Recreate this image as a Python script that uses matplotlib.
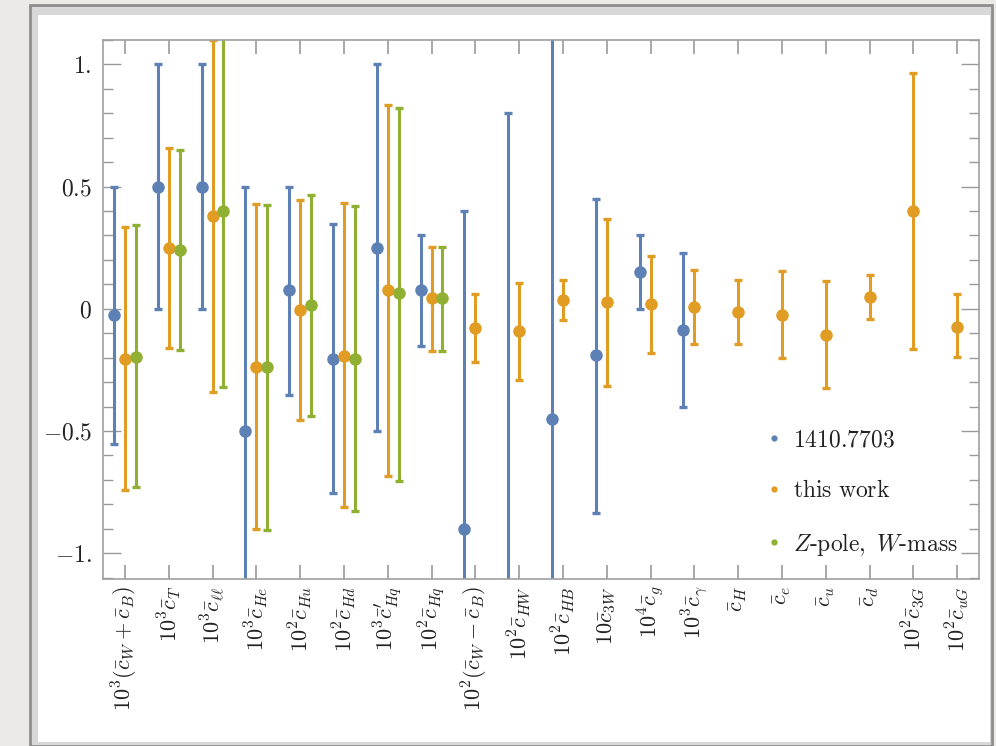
import numpy as np
import matplotlib
matplotlib.use("Agg")
import matplotlib.pyplot as plt
from matplotlib.lines import Line2D
from matplotlib.patches import Rectangle

plt.rcParams['mathtext.fontset'] = 'cm'
plt.rcParams['font.family'] = 'serif'

# ------------------------------------------------------------------
#                              Data
# ------------------------------------------------------------------
labels = [r'$10^3(\bar{c}_W+\bar{c}_B)$', r'$10^3\bar{c}_T$', r'$10^3\bar{c}_{\ell\ell}$',
          r'$10^3\bar{c}_{He}$', r'$10^2\bar{c}_{Hu}$', r'$10^2\bar{c}_{Hd}$',
          r'$10^3\bar{c}_{Hq}^{\prime}$', r'$10^2\bar{c}_{Hq}$', r'$10^2(\bar{c}_W-\bar{c}_B)$',
          r'$10^2\bar{c}_{HW}$', r'$10^2\bar{c}_{HB}$', r'$10\bar{c}_{3W}$',
          r'$10^4\bar{c}_g$', r'$10^3\bar{c}_\gamma$', r'$\bar{c}_H$', r'$\bar{c}_e$',
          r'$\bar{c}_u$', r'$\bar{c}_d$', r'$10^2\bar{c}_{3G}$', r'$10^2\bar{c}_{uG}$']

# 1410.7703 (first 14 coefficients)
blue_val = [-0.025, 0.5, 0.5, -0.5, 0.075, -0.205, 0.25, 0.075, -0.9, -1.2, -0.45, -0.19, 0.15, -0.087]
blue_lo = [-0.553, 0.0, 0.0, -1.5, -0.353, -0.756, -0.5, -0.153, -2.2, -3.2, -2.2, -0.835, 0.0, -0.404]
blue_hi = [0.5, 1.0, 1.0, 0.5, 0.5, 0.348, 1.0, 0.3, 0.4, 0.8, 1.3, 0.45, 0.3, 0.228]

# this work (all 20)
orange_val = [-0.204, 0.248, 0.38, -0.237, -0.004, -0.193, 0.075, 0.044, -0.078, -0.093,
              0.035, 0.028, 0.021, 0.007, -0.013, -0.027, -0.106, 0.048, 0.4, -0.073]
orange_lo = [-0.74, -0.159, -0.342, -0.90, -0.456, -0.813, -0.683, -0.171, -0.218, -0.29,
             -0.047, -0.317, -0.179, -0.144, -0.145, -0.202, -0.325, -0.04, -0.164, -0.198]
orange_hi = [0.333, 0.656, 1.10, 0.428, 0.445, 0.433, 0.835, 0.254, 0.059, 0.107,
             0.119, 0.366, 0.216, 0.16, 0.119, 0.155, 0.114, 0.137, 0.963, 0.061]

# Z-pole, W-mass (first 8)
green_val = [-0.198, 0.242, 0.40, -0.237, 0.015, -0.205, 0.063, 0.044]
green_lo = [-0.73, -0.167, -0.319, -0.904, -0.438, -0.827, -0.705, -0.174]
green_hi = [0.342, 0.65, 1.12, 0.424, 0.467, 0.421, 0.823, 0.254]

series = [('1410.7703', '#5E81B5', -0.25, blue_val, blue_lo, blue_hi),
          ('this work', '#E19C24', 0.0, orange_val, orange_lo, orange_hi),
          ('Z-pole, W-mass', '#8FB032', 0.25, green_val, green_lo, green_hi)]
legend_text = [r'$\mathrm{1410.7703}$', r'$\mathrm{this\ work}$',
               r'$Z\mathrm{\text{-}pole,}\ W\mathrm{\text{-}mass}$']

# ------------------------------------------------------------------
#                              Plotting
# ------------------------------------------------------------------
fig = plt.figure(figsize=(9.96, 7.46), dpi=100, facecolor='#eceae7')
# picture frame
fig.patches.append(Rectangle((30/996, 0), 962/996, 741/746, transform=fig.transFigure,
                             facecolor='#d8d8d8', edgecolor='#8e8e8e', lw=2.0, zorder=-10))
fig.patches.append(Rectangle((38/996, 4/746), 952/996, 727/746, transform=fig.transFigure,
                             facecolor='white', edgecolor='none', zorder=-9))

ax = fig.add_axes([103/996, 1 - 579/746, 876/996, 539/746])
ax.set_zorder(5)
ax.set_facecolor('white')

for name, col, off, val, lo, hi in series:
    val = np.array(val)
    x = np.arange(1, len(val) + 1) + off
    yerr = np.array([val - np.array(lo), np.array(hi) - val])
    ax.errorbar(x, val, yerr=yerr, fmt='o', color=col, ms=8.0,
                elinewidth=2.2, capsize=3.0, capthick=2.4)

ax.set_xlim(0.5, 20.5)
ax.set_ylim(-1.106, 1.098)

ax.set_xticks(np.arange(1, 21))
ax.set_xticklabels(labels, rotation=90, fontsize=16)
ax.set_yticks([-1, -0.5, 0, 0.5, 1])
ax.set_yticklabels([r'$-1.$', r'$-0.5$', r'$0$', r'$0.5$', r'$1.$'], fontsize=17)
ax.set_yticks(np.arange(-1.1, 1.11, 0.1), minor=True)

ax.tick_params(axis='both', which='both', direction='in', color='#9a9a9a',
               top=True, right=True, labelcolor='#222222')
ax.tick_params(axis='x', which='major', length=10, width=1.2, pad=5)
ax.tick_params(axis='y', which='major', length=13, width=1.0, pad=8)
ax.tick_params(axis='y', which='minor', length=7, width=1.0)
ax.tick_params(axis='x', which='minor', bottom=False, top=False)
for s in ax.spines.values():
    s.set_color('#a0a0a0')
    s.set_linewidth(1.2)

handles = [Line2D([], [], ls='none', marker='o', ms=4.5, mew=0, color=c)
           for _, c, _, _, _, _ in series]
ax.legend(handles, legend_text, loc='lower right', bbox_to_anchor=(1.0, 0.0),
          frameon=False, fontsize=17, labelspacing=1.2, handlelength=0.8,
          handletextpad=0.4, labelcolor='#222222')

fig.savefig('out.png', dpi=100, facecolor=fig.get_facecolor())
